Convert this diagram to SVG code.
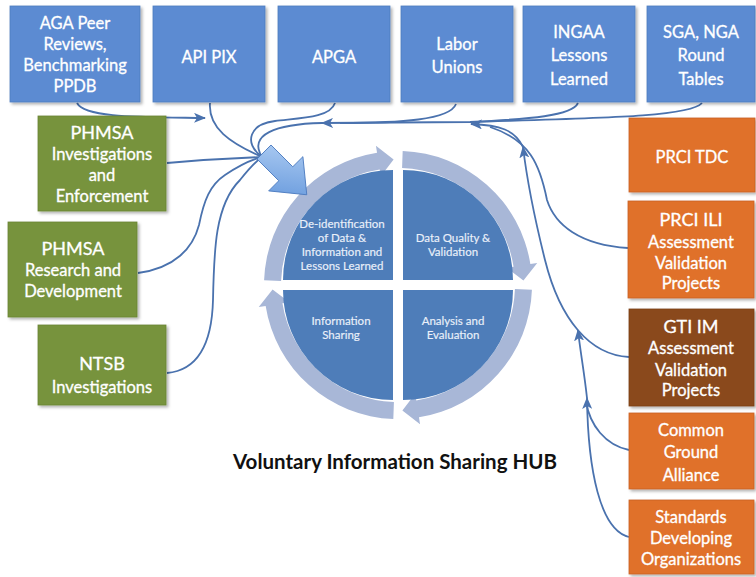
<svg xmlns="http://www.w3.org/2000/svg" width="756" height="577" viewBox="0 0 756 577">
  <defs>
    <style>
      .box text { font-family: Lato, "Open Sans", sans-serif; font-size: 16.5px; fill: #ffffff; stroke: #ffffff; stroke-width: 0.3; text-anchor: middle; }
      .box text.big { font-size: 18px; }
      .blue { fill: #5B8BD2; stroke: #4F7DBF; stroke-width: 0.8; }
      .green { fill: #77933C; stroke: #6A8434; stroke-width: 0.8; }
      .orange { fill: #E0712C; stroke: #C96224; stroke-width: 0.8; }
      .brown { fill: #8A4A1C; stroke: #7A4018; stroke-width: 0.8; }
      .link { fill: none; stroke: #4A72AE; stroke-width: 1.8; }
      .quad { fill: #4E7DB9; }
      .ring { fill: #A8B7D7; }
      .qtext { font-family: Lato, "Open Sans", sans-serif; font-size: 11.5px; fill: #EAF0FA; stroke: #EAF0FA; stroke-width: 0.15; text-anchor: middle; }
      .title { font-family: Lato, "Open Sans", sans-serif; font-size: 20.5px; font-weight: bold; fill: #111111; text-anchor: middle; }
    </style>
    <filter id="shadow" x="-10%" y="-10%" width="130%" height="130%">
      <feDropShadow dx="2" dy="2" stdDeviation="1.5" flood-color="#000000" flood-opacity="0.3"/>
    </filter>
    <marker id="tip" viewBox="0 0 12 10" refX="11" refY="5" markerWidth="12" markerHeight="10" markerUnits="userSpaceOnUse" orient="auto">
      <path d="M0,0 L12,5 L0,10 L3,5 Z" fill="#4A72AE"/>
    </marker>
    <linearGradient id="bigArrowFill" x1="0" y1="0" x2="1" y2="1">
      <stop offset="0" stop-color="#B3D0F4"/>
      <stop offset="1" stop-color="#5E93DA"/>
    </linearGradient>
    <!-- one quarter of the hub, bottom-right orientation, rotated for the others -->
    <path id="quarter" d="M 5 5 H 115 A 110 110 0 0 1 5 115 Z"/>
    <path id="ringArc" d="M 133.92 4.68 A 134 134 0 0 1 20.96 132.35 L 22.06 139.26 L 4.38 125.42 L 17.21 108.65 L 18.30 115.56 A 117 117 0 0 0 116.93 4.08 Z"/>
  </defs>

  <rect width="756" height="577" fill="#ffffff"/>

  <!-- connectors -->
  <g id="connectors">
    <!-- left and top sources into the hub arrow -->
    <path class="link" d="M 77 103 C 85 118, 140 117, 205 118" marker-end="url(#tip)"/>
    <path class="link" d="M 210 103 C 208 128, 230 143, 262 157"/>
    <path class="link" d="M 335 103 C 330 118, 300 118, 275 121 C 250 124, 243 142, 262 157"/>
    <path class="link" d="M 167 163 C 200 160, 235 158, 262 157"/>
    <path class="link" d="M 138 273 C 175 268, 193 248, 199 225 C 204 200, 210 185, 225 175 C 240 165, 250 160, 262 157"/>
    <path class="link" d="M 167 373 C 200 370, 212 340, 213 300 C 214 250, 215 205, 240 180 C 248 170, 255 162, 262 157"/>
    <!-- top right sources along the upper trunk -->
    <path class="link" d="M 702 103 C 690 117, 600 118, 470 122 L 322 123" marker-end="url(#tip)"/>
    <path class="link" d="M 322 123 C 275 124, 248 135, 262 157"/>
    <path class="link" d="M 456 104 C 450 120, 400 123, 340 123"/>
    <path class="link" d="M 578 103 C 572 116, 530 119, 470 122"/>
    <!-- right side sources -->
    <path class="link" d="M 628 248 C 580 245, 555 225, 547 200 C 540 165, 530 140, 490 127"/>
    <path class="link" d="M 629 357 C 590 355, 560 320, 545 260 C 535 220, 527 180, 523 147" marker-end="url(#tip)"/>
    <path class="link" d="M 523 147 C 515 130, 500 125, 471 124" marker-end="url(#tip)"/>
    <path class="link" d="M 587 398 C 584 370, 580 350, 578 330" marker-end="url(#tip)"/>
    <path class="link" d="M 629 537 C 600 530, 588 470, 587 398" marker-end="url(#tip)"/>
    <path class="link" d="M 629 450 C 605 445, 590 425, 586 402"/>
  </g>

  <!-- top row -->
  <g id="aga" class="box">
    <rect class="blue" x="10" y="6" width="130" height="96" filter="url(#shadow)"/>
    <text x="75" y="29">AGA Peer</text>
    <text x="75" y="50">Reviews,</text>
    <text x="75" y="71">Benchmarking</text>
    <text x="75" y="92">PPDB</text>
  </g>
  <g id="api-pix" class="box">
    <rect class="blue" x="153" y="6" width="112" height="96" filter="url(#shadow)"/>
    <text x="209" y="63">API PIX</text>
  </g>
  <g id="apga" class="box">
    <rect class="blue" x="278" y="6" width="112" height="96" filter="url(#shadow)"/>
    <text x="334" y="63">APGA</text>
  </g>
  <g id="labor-unions" class="box">
    <rect class="blue" x="401" y="6" width="112" height="96" filter="url(#shadow)"/>
    <text x="457" y="50">Labor</text>
    <text x="457" y="73">Unions</text>
  </g>
  <g id="ingaa" class="box">
    <rect class="blue" x="523" y="6" width="112" height="96" filter="url(#shadow)"/>
    <text x="579" y="38">INGAA</text>
    <text x="579" y="61">Lessons</text>
    <text x="579" y="85">Learned</text>
  </g>
  <g id="sga-nga" class="box">
    <rect class="blue" x="647" y="6" width="108" height="96" filter="url(#shadow)"/>
    <text x="701" y="38">SGA, NGA</text>
    <text x="701" y="61">Round</text>
    <text x="701" y="85">Tables</text>
  </g>

  <!-- left column -->
  <g id="phmsa-investigations" class="box">
    <rect class="green" x="38" y="116" width="128" height="95" filter="url(#shadow)"/>
    <text class="big" x="102" y="139">PHMSA</text>
    <text x="102" y="160">Investigations</text>
    <text x="102" y="181">and</text>
    <text x="102" y="202">Enforcement</text>
  </g>
  <g id="phmsa-research" class="box">
    <rect class="green" x="8" y="222" width="129" height="95" filter="url(#shadow)"/>
    <text class="big" x="73" y="255">PHMSA</text>
    <text x="73" y="276">Research and</text>
    <text x="73" y="297">Development</text>
  </g>
  <g id="ntsb" class="box">
    <rect class="green" x="38" y="325" width="128" height="80" filter="url(#shadow)"/>
    <text class="big" x="102" y="370">NTSB</text>
    <text x="102" y="393">Investigations</text>
  </g>

  <!-- right column -->
  <g id="prci-tdc" class="box">
    <rect class="orange" x="629" y="118" width="126" height="74" filter="url(#shadow)"/>
    <text x="692" y="163">PRCI TDC</text>
  </g>
  <g id="prci-ili" class="box">
    <rect class="orange" x="628" y="201" width="126" height="97" filter="url(#shadow)"/>
    <text class="big" x="691" y="226">PRCI ILI</text>
    <text x="691" y="248">Assessment</text>
    <text x="691" y="269">Validation</text>
    <text x="691" y="289">Projects</text>
  </g>
  <g id="gti-im" class="box">
    <rect class="brown" x="629" y="309" width="125" height="97" filter="url(#shadow)"/>
    <text class="big" x="691" y="333">GTI IM</text>
    <text x="691" y="354">Assessment</text>
    <text x="691" y="376">Validation</text>
    <text x="691" y="396">Projects</text>
  </g>
  <g id="common-ground" class="box">
    <rect class="orange" x="629" y="413" width="125" height="76" filter="url(#shadow)"/>
    <text x="691" y="436">Common</text>
    <text x="691" y="458">Ground</text>
    <text x="691" y="481">Alliance</text>
  </g>
  <g id="sdo" class="box">
    <rect class="orange" x="629" y="500" width="125" height="74" filter="url(#shadow)"/>
    <text x="691" y="523">Standards</text>
    <text x="691" y="544">Developing</text>
    <text x="691" y="565">Organizations</text>
  </g>

  <!-- hub -->
  <g id="hub">
    <g transform="translate(398,285)">
      <use href="#ringArc" class="ring"/>
      <use href="#ringArc" class="ring" transform="rotate(90)"/>
      <use href="#ringArc" class="ring" transform="rotate(180)"/>
      <use href="#ringArc" class="ring" transform="rotate(270)"/>
      <use href="#quarter" class="quad"/>
      <use href="#quarter" class="quad" transform="rotate(90)"/>
      <use href="#quarter" class="quad" transform="rotate(180)"/>
      <use href="#quarter" class="quad" transform="rotate(270)"/>
    </g>
    <g id="q-deidentification">
      <text class="qtext" x="342" y="228">De-identification</text>
      <text class="qtext" x="342" y="242">of Data &amp;</text>
      <text class="qtext" x="342" y="256">Information and</text>
      <text class="qtext" x="342" y="270">Lessons Learned</text>
    </g>
    <g id="q-quality">
      <text class="qtext" x="453" y="242">Data Quality &amp;</text>
      <text class="qtext" x="453" y="256">Validation</text>
    </g>
    <g id="q-sharing">
      <text class="qtext" x="341" y="325">Information</text>
      <text class="qtext" x="341" y="339">Sharing</text>
    </g>
    <g id="q-analysis">
      <text class="qtext" x="453" y="325">Analysis and</text>
      <text class="qtext" x="453" y="339">Evaluation</text>
    </g>
  </g>

  <!-- inflow arrow into the hub -->
  <g id="hub-arrow">
    <path d="M 0 -9 L 28 -9 L 28 -22 L 55 0 L 28 22 L 28 9 L 0 9 Z" transform="translate(264,152) rotate(45) scale(1.1)" fill="url(#bigArrowFill)" stroke="#4B7BC0" stroke-width="0.8"/>
  </g>

  <g id="title">
    <text class="title" x="395" y="469">Voluntary Information Sharing HUB</text>
  </g>
</svg>
